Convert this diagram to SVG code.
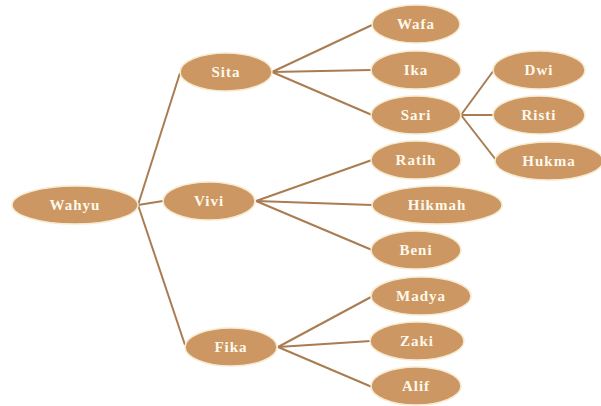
<svg xmlns="http://www.w3.org/2000/svg" width="601" height="406" viewBox="0 0 601 406">
<style>
.n ellipse{fill:#CC9762;stroke:#F6EBD0;stroke-width:1.5}
.n text{fill:#FFF9EC;font-family:"Liberation Serif",serif;font-weight:bold;font-size:15px;letter-spacing:1px;text-anchor:middle;dominant-baseline:central}
#edges line{stroke:#A97C52;stroke-width:2}
</style>
<rect width="601" height="406" fill="#fff"/>
<g id="edges">
<line x1="138" y1="205" x2="180" y2="73"/>
<line x1="138" y1="205" x2="163" y2="201"/>
<line x1="138" y1="205" x2="185" y2="345"/>
<line x1="272" y1="72" x2="372" y2="25"/>
<line x1="272" y1="72" x2="371" y2="70"/>
<line x1="272" y1="72" x2="372" y2="115"/>
<line x1="461" y1="115" x2="494" y2="70"/>
<line x1="461" y1="115" x2="494" y2="115"/>
<line x1="461" y1="115" x2="496" y2="160"/>
<line x1="256" y1="201" x2="372" y2="160"/>
<line x1="256" y1="201" x2="372" y2="205"/>
<line x1="256" y1="201" x2="372" y2="250"/>
<line x1="278" y1="347" x2="371" y2="297"/>
<line x1="278" y1="347" x2="371" y2="341"/>
<line x1="278" y1="347" x2="372" y2="387"/>
</g>
<g id="wahyu" class="n"><ellipse cx="75" cy="205" rx="63" ry="19"/><text x="75" y="205">Wahyu</text></g>
<g id="sita" class="n"><ellipse cx="226" cy="72" rx="46" ry="19"/><text x="226" y="72">Sita</text></g>
<g id="vivi" class="n"><ellipse cx="209" cy="201" rx="46" ry="19"/><text x="209" y="201">Vivi</text></g>
<g id="fika" class="n"><ellipse cx="231" cy="347" rx="46" ry="19"/><text x="231" y="347">Fika</text></g>
<g id="wafa" class="n"><ellipse cx="416" cy="24" rx="44" ry="19"/><text x="416" y="24">Wafa</text></g>
<g id="ika" class="n"><ellipse cx="416" cy="70" rx="45" ry="19"/><text x="416" y="70">Ika</text></g>
<g id="sari" class="n"><ellipse cx="416" cy="115" rx="45" ry="19"/><text x="416" y="115">Sari</text></g>
<g id="dwi" class="n"><ellipse cx="539" cy="70" rx="46" ry="19"/><text x="539" y="70">Dwi</text></g>
<g id="risti" class="n"><ellipse cx="539" cy="115" rx="46" ry="19"/><text x="539" y="115">Risti</text></g>
<g id="hukma" class="n"><ellipse cx="549" cy="161" rx="54" ry="19"/><text x="549" y="161">Hukma</text></g>
<g id="ratih" class="n"><ellipse cx="416" cy="160" rx="45" ry="19"/><text x="416" y="160">Ratih</text></g>
<g id="hikmah" class="n"><ellipse cx="437" cy="205" rx="65" ry="19"/><text x="437" y="205">Hikmah</text></g>
<g id="beni" class="n"><ellipse cx="416" cy="250" rx="45" ry="19"/><text x="416" y="250">Beni</text></g>
<g id="madya" class="n"><ellipse cx="421" cy="296" rx="50" ry="19"/><text x="421" y="296">Madya</text></g>
<g id="zaki" class="n"><ellipse cx="417" cy="341" rx="47" ry="19"/><text x="417" y="341">Zaki</text></g>
<g id="alif" class="n"><ellipse cx="416" cy="386" rx="45" ry="19"/><text x="416" y="386">Alif</text></g>
</svg>
